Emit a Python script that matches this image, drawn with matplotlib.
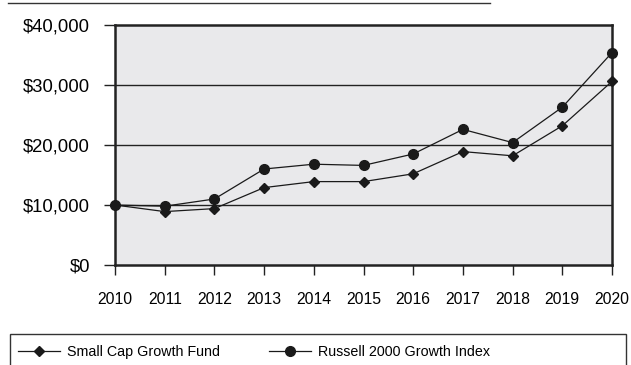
import matplotlib.pyplot as plt
from matplotlib.patches import Rectangle
from matplotlib.lines import Line2D

plt.rcParams['font.family'] = ['Liberation Sans', 'DejaVu Sans']

years = [2010, 2011, 2012, 2013, 2014, 2015, 2016, 2017, 2018, 2019, 2020]
fund = [10000, 8900, 9400, 12900, 13900, 13900, 15200, 18900, 18200, 23200, 30600]
russell = [10000, 9800, 11000, 16000, 16800, 16600, 18500, 22600, 20400, 26300, 35400]
y_ticks = [0, 10000, 20000, 30000, 40000]
y_labels = ['$0', '$10,000', '$20,000', '$30,000', '$40,000']
series_names = ['Small Cap Growth Fund', 'Russell 2000 Growth Index']

fig = plt.figure(figsize=(6.31, 3.65), dpi=100)
ax = fig.add_axes([115 / 631, 1 - 265 / 365, 497 / 631, 240 / 365])
ax.set_facecolor('#e9e9eb')

for v in y_ticks[1:-1]:
    ax.axhline(v, color='#222222', lw=1.0, zorder=1)

f_line, = ax.plot(years, fund, color='#1a1a1a', lw=0.9, marker='D', ms=5.5,
                  clip_on=False, zorder=3)
r_line, = ax.plot(years, russell, color='#1a1a1a', lw=0.9, marker='o', ms=7,
                  clip_on=False, zorder=3)

ax.set_xlim(2010, 2020)
ax.set_ylim(0, 40000)
ax.set_xticks(years)
ax.set_xticklabels([str(y) for y in years], fontsize=11.3)
ax.set_yticks(y_ticks)
ax.set_yticklabels(y_labels, fontsize=13.3)
ax.tick_params(axis='x', length=7.5, width=1, color='#222222', pad=12)
ax.tick_params(axis='y', length=8, width=1, color='#222222', pad=10)
for s in ax.spines.values():
    s.set_linewidth(1.8)
    s.set_color('#222222')

# rule along the top edge
fig.add_artist(Line2D([8 / 631, 490 / 631], [1 - 3 / 365] * 2,
                      transform=fig.transFigure, color='#333333', lw=1.0))

# legend box running off the bottom edge
fig.add_artist(Rectangle((10 / 631, -0.05), 616 / 631, 1 - 334 / 365 + 0.05,
                         transform=fig.transFigure, fill=False,
                         edgecolor='#333333', lw=1.0))
fig.legend([f_line, r_line], series_names, loc='center left',
           bbox_to_anchor=(18 / 631, 1 - 352 / 365), ncol=2, frameon=False,
           fontsize=10.3, handlelength=2.95, columnspacing=3.4, handletextpad=0.5,
           borderaxespad=0, borderpad=0)

fig.savefig('out.png', dpi=100)
